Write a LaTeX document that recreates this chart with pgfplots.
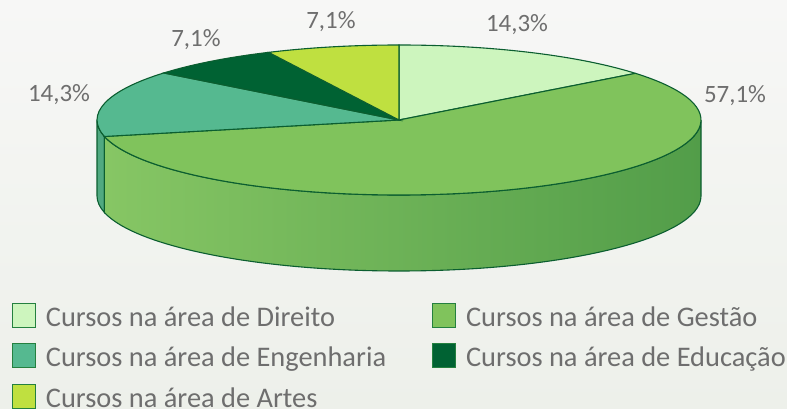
\documentclass[border=0pt]{standalone}
\usepackage{pgfplots}
\pgfplotsset{compat=1.18}
\usepackage{fontspec}
\setmainfont{Carlito}
\definecolor{cDir}{HTML}{CDF5BE}
\definecolor{cGes}{HTML}{80C35C}
\definecolor{cGesD}{HTML}{529D49}
\definecolor{cEng}{HTML}{55B990}
\definecolor{cEngS}{HTML}{50A981}
\definecolor{cEdu}{HTML}{006233}
\definecolor{cArt}{HTML}{BFE040}
\definecolor{edge}{HTML}{0B5E30}
\definecolor{legedge}{HTML}{24803F}
\definecolor{txt}{HTML}{6E6E6E}
\definecolor{bgtop}{HTML}{F7F7F6}
\definecolor{bgbot}{HTML}{EDF0EA}
% data (percent)
\def\vDir{14.3}
\def\vGes{57.1}
\def\vEng{14.3}
\def\vEdu{7.1}
\def\vArt{7.1}
\begin{document}
\begin{tikzpicture}
\pgfmathsetmacro\cx{399}
\pgfmathsetmacro\cy{289}
\pgfmathsetmacro\rx{302}
\pgfmathsetmacro\ry{75}
\pgfmathsetmacro\tot{\vDir+\vGes+\vEng+\vEdu+\vArt}
\pgfmathsetmacro\k{360/\tot}
\pgfmathsetmacro\aA{90}
\pgfmathsetmacro\aB{\aA-\k*\vDir}
\pgfmathsetmacro\aC{\aB-\k*\vGes}
\pgfmathsetmacro\aD{\aC-\k*\vEng}
\pgfmathsetmacro\aE{\aD-\k*\vEdu}
\pgfmathsetmacro\aF{\aE-\k*\vArt}
\begin{axis}[
  scale only axis, width=787bp, height=409bp,
  xmin=0, xmax=787, ymin=0, ymax=409,
  hide axis, clip=false,
  legend columns=2, legend cell align=left,
  legend image code/.code={\draw[#1, draw=legedge, line width=0.9bp] (0bp,-9bp) rectangle (23bp,15bp);},
  legend style={at={(axis cs:12,106)}, anchor=north west, draw=none, fill=none,
    inner sep=0pt, outer sep=0pt, row sep=11bp,
    font=\fontsize{28.5}{32}\selectfont, text=txt,
    nodes={inner sep=0pt, outer sep=0pt, text height=22bp, text depth=6bp},
    /tikz/every odd column/.append style={column sep=10bp},
    /tikz/every even column/.append style={column sep=46bp}},
]
% background
\path[top color=bgtop, bottom color=bgbot] (axis cs:0,0) rectangle (axis cs:787,409);
% side surfaces
\path[fill=cEngS, draw=edge, line width=1.1bp]
  (axis cs:{\cx+\rx*cos(-180)},{\cy+\ry*sin(-180)}) arc[start angle=-180, end angle=\aC, x radius=\rx bp, y radius=\ry bp]
  -- ++(0,-76bp) arc[start angle=\aC, end angle=-180, x radius=\rx bp, y radius=\ry bp] -- cycle;
\path[left color=cGes!95!white, right color=cGesD, draw=edge, line width=1.1bp]
  (axis cs:{\cx+\rx*cos(\aC)},{\cy+\ry*sin(\aC)}) arc[start angle=\aC, end angle=0, x radius=\rx bp, y radius=\ry bp]
  -- ++(0,-76bp) arc[start angle=0, end angle=\aC, x radius=\rx bp, y radius=\ry bp] -- cycle;
% top slices
\path[fill=cDir, draw=edge, line width=1.1bp] (axis cs:\cx,\cy) -- (axis cs:{\cx+\rx*cos(\aA)},{\cy+\ry*sin(\aA)})
  arc[start angle=\aA, end angle=\aB, x radius=\rx bp, y radius=\ry bp] -- cycle;
\path[fill=cGes, draw=edge, line width=1.1bp] (axis cs:\cx,\cy) -- (axis cs:{\cx+\rx*cos(\aB)},{\cy+\ry*sin(\aB)})
  arc[start angle=\aB, end angle=\aC, x radius=\rx bp, y radius=\ry bp] -- cycle;
\path[fill=cEng, draw=edge, line width=1.1bp] (axis cs:\cx,\cy) -- (axis cs:{\cx+\rx*cos(\aC)},{\cy+\ry*sin(\aC)})
  arc[start angle=\aC, end angle=\aD, x radius=\rx bp, y radius=\ry bp] -- cycle;
\path[fill=cEdu, draw=edge, line width=1.1bp] (axis cs:\cx,\cy) -- (axis cs:{\cx+\rx*cos(\aD)},{\cy+\ry*sin(\aD)})
  arc[start angle=\aD, end angle=\aE, x radius=\rx bp, y radius=\ry bp] -- cycle;
\path[fill=cArt, draw=edge, line width=1.1bp] (axis cs:\cx,\cy) -- (axis cs:{\cx+\rx*cos(\aE)},{\cy+\ry*sin(\aE)})
  arc[start angle=\aE, end angle=\aF, x radius=\rx bp, y radius=\ry bp] -- cycle;
% labels
\begin{scope}[every node/.style={text=txt, font=\fontsize{25}{29}\selectfont, inner sep=0pt}]
\node at (axis cs:517,384) {14,3\%};
\node at (axis cs:735,313) {57,1\%};
\node at (axis cs:59,314) {14,3\%};
\node at (axis cs:196,369) {7,1\%};
\node at (axis cs:331,387) {7,1\%};
\end{scope}
% legend
\addlegendimage{fill=cDir}\addlegendentry{Cursos na área de Direito}
\addlegendimage{fill=cGes}\addlegendentry{Cursos na área de Gestão}
\addlegendimage{fill=cEng}\addlegendentry{Cursos na área de Engenharia}
\addlegendimage{fill=cEdu}\addlegendentry{Cursos na área de Educação}
\addlegendimage{fill=cArt}\addlegendentry{Cursos na área de Artes}
\end{axis}
\pgfresetboundingbox
\useasboundingbox (0,0) rectangle (787bp,409bp);
\end{tikzpicture}
\end{document}
